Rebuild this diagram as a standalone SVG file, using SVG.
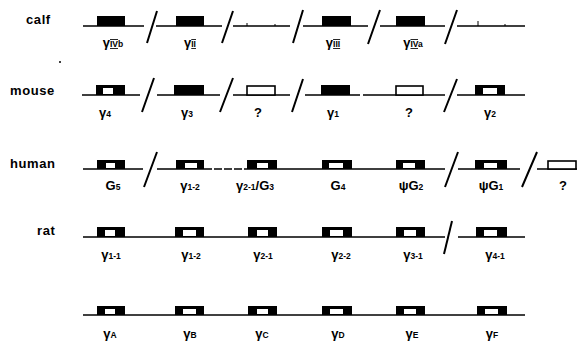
<svg xmlns="http://www.w3.org/2000/svg" width="586" height="342" viewBox="0 0 586 342">
<style>
.bg{fill:#fff}
.ln{stroke:#000;stroke-width:1.5;fill:none}
.sl{stroke:#000;stroke-width:2;fill:none}
.tk{stroke:#000;stroke-width:1;fill:none}
.solid{fill:#000}
.win{fill:#fff}
.open{fill:#fff;stroke:#000;stroke-width:1.6}
.row{font-family:"Liberation Sans",Arial,sans-serif;font-size:13px;font-weight:bold;letter-spacing:0.6px;fill:#000}
.lb{font-family:"Liberation Sans",Arial,sans-serif;font-size:13px;font-weight:bold;fill:#000;text-anchor:middle}
.sub{font-size:8.5px}
.rn{font-size:8.5px;text-decoration:underline overline}
</style>
<rect class="bg" x="0" y="0" width="586" height="342"/>

<!-- row labels -->
<g id="label-calf"><text class="row" x="26" y="24">calf</text></g>
<g id="label-mouse"><text class="row" x="10" y="95">mouse</text></g>
<g id="label-human"><text class="row" x="10" y="168">human</text></g>
<g id="label-rat"><text class="row" x="37" y="235">rat</text></g>
<circle cx="60" cy="62" r="1" fill="#000"/>

<!-- connectors: chromosome lines and breaks -->
<g id="connectors">
  <!-- calf -->
  <path class="ln" d="M83 26H144M156 26H222M233 26H290M303 26H368M380 26H445M457 26H525"/>
  <path class="sl" d="M157 11L147 43M233 11L222 43M303 10L293 43M380 10L368 44M457 10L445 44"/>
  <path class="tk" d="M247 26V23M275 26V24M478 26V21M505 26V24"/>
  <!-- mouse -->
  <path class="ln" d="M82 95H140M157 95H220M233 95H290M305 95H360M363 95H445M457 95H525"/>
  <path class="sl" d="M154 78L142 112M233 78L220 112M303 79L292 112M457 79L444 112"/>
  <!-- human -->
  <path class="ln" d="M83 169H143M157 169H204M247 169H445M458 169H520M537 169H577"/>
  <path class="ln" d="M204 169H247" stroke-dasharray="8 2"/>
  <path class="sl" d="M157 152L144 187M458 152L445 187M537 152L522 187"/>
  <!-- rat -->
  <path class="ln" d="M83 237H445M458 237H525"/>
  <path class="sl" d="M452 221L444 254"/>
  <!-- bottom row -->
  <path class="ln" d="M83 315H525"/>
</g>

<!-- calf genes -->
<g id="calf-gIVb"><rect class="solid" x="97" y="16" width="28" height="10"/><text class="lb" x="113" y="47">γ<tspan class="rn">IV</tspan><tspan class="sub">b</tspan></text></g>
<g id="calf-gII"><rect class="solid" x="176" y="16" width="28" height="10"/><text class="lb" x="190" y="47">γ<tspan class="rn">II</tspan></text></g>
<g id="calf-gIII"><rect class="solid" x="322" y="16" width="29" height="10"/><text class="lb" x="333" y="47">γ<tspan class="rn">III</tspan></text></g>
<g id="calf-gIVa"><rect class="solid" x="396" y="16" width="29" height="10"/><text class="lb" x="413" y="47">γ<tspan class="rn">IV</tspan><tspan class="sub">a</tspan></text></g>

<!-- mouse genes -->
<g id="mouse-g4"><rect class="solid" x="96" y="85" width="29" height="10"/><rect class="win" x="103" y="88" width="10" height="6"/><text class="lb" x="105" y="117">γ<tspan class="sub">4</tspan></text></g>
<g id="mouse-g3"><rect class="solid" x="174" y="85" width="30" height="10"/><text class="lb" x="187" y="117">γ<tspan class="sub">3</tspan></text></g>
<g id="mouse-q1"><rect class="open" x="247" y="86" width="28" height="9"/><text class="lb" x="258" y="117">?</text></g>
<g id="mouse-g1"><rect class="solid" x="321" y="85" width="29" height="10"/><text class="lb" x="333" y="117">γ<tspan class="sub">1</tspan></text></g>
<g id="mouse-q2"><rect class="open" x="396" y="86" width="27" height="9"/><text class="lb" x="409" y="117">?</text></g>
<g id="mouse-g2"><rect class="solid" x="475" y="85" width="30" height="10"/><rect class="win" x="483" y="88" width="14" height="6"/><text class="lb" x="490" y="117">γ<tspan class="sub">2</tspan></text></g>

<!-- human genes -->
<g id="human-G5"><rect class="solid" x="97" y="160" width="28" height="9"/><rect class="win" x="106" y="163" width="9" height="5"/><text class="lb" x="113" y="190">G<tspan class="sub">5</tspan></text></g>
<g id="human-g1-2"><rect class="solid" x="176" y="160" width="28" height="9"/><rect class="win" x="185" y="163" width="12" height="5"/><text class="lb" x="190" y="190">γ<tspan class="sub">1-2</tspan></text></g>
<g id="human-g2-1-G3"><rect class="solid" x="247" y="160" width="30" height="9"/><rect class="win" x="257" y="163" width="11" height="5"/><text class="lb" x="255" y="190">γ<tspan class="sub">2-1</tspan>/G<tspan class="sub">3</tspan></text></g>
<g id="human-G4"><rect class="solid" x="322" y="160" width="30" height="9"/><rect class="win" x="329" y="163" width="14" height="5"/><text class="lb" x="338" y="190">G<tspan class="sub">4</tspan></text></g>
<g id="human-psiG2"><rect class="solid" x="396" y="160" width="29" height="9"/><rect class="win" x="403" y="163" width="12" height="5"/><text class="lb" x="411" y="190">ψG<tspan class="sub">2</tspan></text></g>
<g id="human-psiG1"><rect class="solid" x="475" y="160" width="32" height="9"/><rect class="win" x="484" y="163" width="13" height="5"/><text class="lb" x="491" y="190">ψG<tspan class="sub">1</tspan></text></g>
<g id="human-q"><rect class="open" x="548" y="161" width="28" height="8"/><text class="lb" x="563" y="190">?</text></g>

<!-- rat genes -->
<g id="rat-g1-1"><rect class="solid" x="97" y="227" width="28" height="10"/><rect class="win" x="105" y="230" width="10" height="6"/><text class="lb" x="111" y="259">γ<tspan class="sub">1-1</tspan></text></g>
<g id="rat-g1-2"><rect class="solid" x="175" y="227" width="29" height="10"/><rect class="win" x="183" y="230" width="13" height="6"/><text class="lb" x="191" y="259">γ<tspan class="sub">1-2</tspan></text></g>
<g id="rat-g2-1"><rect class="solid" x="248" y="227" width="29" height="10"/><rect class="win" x="257" y="230" width="11" height="6"/><text class="lb" x="263" y="259">γ<tspan class="sub">2-1</tspan></text></g>
<g id="rat-g2-2"><rect class="solid" x="322" y="227" width="30" height="10"/><rect class="win" x="330" y="230" width="13" height="6"/><text class="lb" x="341" y="259">γ<tspan class="sub">2-2</tspan></text></g>
<g id="rat-g3-1"><rect class="solid" x="396" y="227" width="29" height="10"/><rect class="win" x="404" y="230" width="12" height="6"/><text class="lb" x="413" y="259">γ<tspan class="sub">3-1</tspan></text></g>
<g id="rat-g4-1"><rect class="solid" x="476" y="227" width="31" height="10"/><rect class="win" x="484" y="230" width="13" height="6"/><text class="lb" x="495" y="259">γ<tspan class="sub">4-1</tspan></text></g>

<!-- bottom row genes -->
<g id="gA"><rect class="solid" x="97" y="306" width="28" height="9"/><rect class="win" x="105" y="309" width="10" height="5"/><text class="lb" x="110" y="338">γ<tspan class="sub">A</tspan></text></g>
<g id="gB"><rect class="solid" x="175" y="306" width="29" height="9"/><rect class="win" x="183" y="309" width="13" height="5"/><text class="lb" x="190" y="338">γ<tspan class="sub">B</tspan></text></g>
<g id="gC"><rect class="solid" x="248" y="306" width="29" height="9"/><rect class="win" x="257" y="309" width="11" height="5"/><text class="lb" x="262" y="338">γ<tspan class="sub">C</tspan></text></g>
<g id="gD"><rect class="solid" x="322" y="306" width="30" height="9"/><rect class="win" x="330" y="309" width="13" height="5"/><text class="lb" x="338" y="338">γ<tspan class="sub">D</tspan></text></g>
<g id="gE"><rect class="solid" x="396" y="306" width="29" height="9"/><rect class="win" x="404" y="309" width="12" height="5"/><text class="lb" x="412" y="338">γ<tspan class="sub">E</tspan></text></g>
<g id="gF"><rect class="solid" x="477" y="306" width="30" height="9"/><rect class="win" x="485" y="309" width="13" height="5"/><text class="lb" x="492" y="338">γ<tspan class="sub">F</tspan></text></g>
</svg>
